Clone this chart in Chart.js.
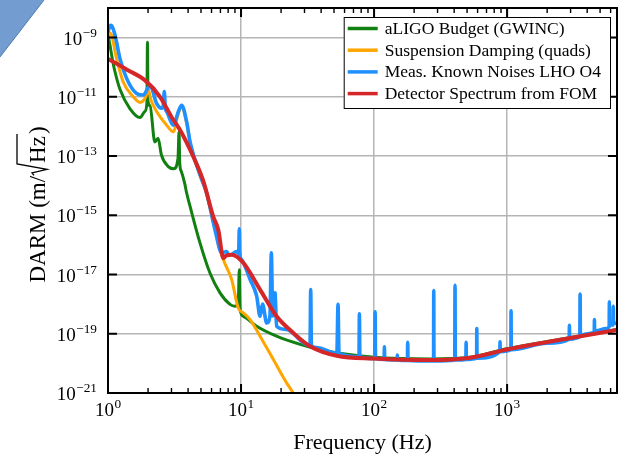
<!DOCTYPE html>
<html>
<head>
<meta charset="utf-8">
<script src="https://cdn.jsdelivr.net/npm/chart.js@4.4.0/dist/chart.umd.min.js"></script>
<style>
  html, body { margin: 0; padding: 0; background: #fff; }
  canvas { display: block; }
</style>
</head>
<body>
<canvas id="darmChart" width="625" height="459"></canvas>
<script>
// values: frequency in Hz, ASD in m/rtHz
const budgetFreq = [1.0, 1.03, 1.08, 1.13, 1.23, 1.46, 1.74, 1.89, 1.96, 1.98, 2.0, 2.07, 2.25, 2.38, 2.52, 2.84, 3.12, 3.36, 3.42, 3.46, 3.56, 3.77, 3.89, 4.14, 4.92, 5.85, 6.95, 8.27, 9.0, 9.53, 9.7, 9.85, 10.4, 13.1, 18.5, 27.8, 44, 100, 263, 527, 995, 2655, 6700];
const budgetAsd = [1.2e-9, 6.3e-10, 1.8e-10, 6.9e-11, 1.8e-11, 4.0e-12, 2.0e-12, 3.2e-12, 6.0e-12, 7.0e-10, 7.0e-12, 5.0e-12, 3.0e-13, 4.0e-13, 1.1e-13, 4.4e-14, 3.7e-14, 8.5e-14, 6.6e-13, 6.0e-14, 3.0e-14, 1.2e-14, 6.0e-15, 2.0e-15, 1.15e-16, 1.1e-17, 2.4e-18, 9.8e-19, 8.5e-19, 1.1e-18, 1.45e-17, 6.6e-19, 3.9e-19, 1.8e-19, 8.3e-20, 4.4e-20, 2.6e-20, 1.6e-20, 1.4e-20, 1.6e-20, 3.1e-20, 6.8e-20, 1.4e-19];

const dampFreq = [1.0, 1.065, 1.16, 1.30, 1.55, 1.74, 1.9, 2.01, 2.1, 2.32, 2.76, 3.1, 3.38, 3.58, 3.9, 4.14, 4.92, 5.52, 6.38, 7.36, 8.5, 9.53, 10.4, 11.7, 13.9, 17.5, 22.0, 24.7, 27];
const dampAsd = [1.6e-9, 1.2e-9, 1.95e-10, 3.2e-11, 1.0e-11, 6.5e-12, 9.0e-12, 1.7e-11, 8.0e-12, 3.2e-12, 1.1e-12, 6.6e-13, 2.8e-12, 4.5e-12, 1.3e-12, 2.8e-13, 2.2e-14, 5.5e-15, 3.2e-16, 3.2e-17, 6.8e-18, 7.4e-19, 5.1e-19, 3.0e-19, 8.3e-20, 1.35e-20, 2.2e-21, 1.0e-21, 5.0e-22];

const measFreq = [1.0, 1.04, 1.065, 1.13, 1.23, 1.38, 1.64, 1.84, 2.07, 2.32, 2.53, 2.6, 2.65, 2.7, 2.76, 3.1, 3.38, 3.58, 3.9, 4.14, 4.92, 5.52, 6.38, 7.15, 7.8, 8.1, 8.5, 9.25, 9.6, 9.7, 9.8, 10.1, 11.7, 13.1, 13.9, 14.5, 15.6, 16.5, 16.9, 17.3, 18.0, 18.5, 22, 29.3, 33.0, 33.4, 33.8, 37, 52.5, 53.6, 54.5, 77, 77.6, 78.2, 101, 101.8, 102.6, 119, 119.6, 120.2, 149, 149.6, 150.2, 178, 179, 180, 280, 281, 282, 404, 406, 408, 490, 492, 494, 590, 592, 594, 882, 885, 888, 1067, 1071, 1075, 2000, 2930, 2940, 2950, 3520, 3538, 3556, 4000, 4520, 4534, 4548, 5000, 5500, 5850, 5873, 5900, 6270, 6290, 6310, 6700];
const measAsd = [1.6e-9, 2.6e-9, 2.5e-9, 1.2e-9, 1.95e-10, 4.2e-11, 1.3e-11, 1.15e-11, 2.45e-11, 6.0e-12, 4.1e-12, 5.0e-12, 1.5e-11, 4.0e-12, 3.2e-12, 1.1e-12, 3.2e-12, 5.2e-12, 1.45e-12, 3.0e-13, 2.3e-14, 5.6e-15, 3.2e-16, 5.4e-17, 6.0e-17, 4.5e-17, 4.7e-17, 6.0e-17, 5.0e-17, 3.5e-16, 5.0e-17, 3.2e-17, 6.8e-18, 1.9e-18, 3.9e-19, 1.0e-18, 2.3e-19, 4.0e-19, 5.4e-17, 4.0e-19, 2.4e-18, 1.8e-19, 1.4e-19, 5.0e-20, 4.0e-20, 3.1e-18, 4.0e-20, 3.4e-20, 2.2e-20, 9.8e-19, 2.2e-20, 1.7e-20, 4.7e-19, 1.7e-20, 1.45e-20, 5.5e-19, 1.45e-20, 1.35e-20, 3.6e-20, 1.35e-20, 1.3e-20, 1.9e-20, 1.3e-20, 1.25e-20, 5.2e-20, 1.25e-20, 1.2e-20, 2.9e-18, 1.2e-20, 1.3e-20, 4.3e-18, 1.3e-20, 1.35e-20, 5.2e-20, 1.35e-20, 1.5e-20, 1.5e-19, 1.5e-20, 2.5e-20, 5.4e-20, 2.5e-20, 2.9e-20, 6.0e-19, 2.9e-20, 4.8e-20, 6.6e-20, 1.95e-19, 6.6e-20, 8.0e-20, 2.2e-18, 9.0e-20, 1.0e-19, 1.15e-19, 3.0e-19, 1.2e-19, 1.35e-19, 1.5e-19, 1.7e-19, 1.2e-18, 2.0e-19, 2.0e-19, 8.5e-19, 2.2e-19, 2.3e-19];

const fomFreq = [1.0, 1.4, 1.9, 2.46, 3.0, 3.48, 4.38, 5.2, 6.18, 6.75, 7.36, 7.7, 8.5, 10.4, 13.9, 18.5, 24.7, 33, 52.5, 100, 263, 527, 995, 2655, 6700];
const fomAsd = [1.9e-10, 8.1e-11, 3.6e-11, 1.0e-11, 2.1e-12, 7.6e-13, 9.5e-14, 1.45e-14, 9.1e-16, 3.2e-16, 3.6e-17, 4.3e-17, 4.7e-17, 2.5e-17, 3.1e-18, 3.9e-19, 1.07e-19, 3.8e-20, 1.8e-20, 1.45e-20, 1.29e-20, 1.55e-20, 2.95e-20, 6.5e-20, 1.35e-19];

const seriesLabels = ['aLIGO Budget (GWINC)', 'Suspension Damping (quads)', 'Meas. Known Noises LHO O4', 'Detector Spectrum from FOM'];
const seriesColors = ['#118011', '#ffa500', '#1e90ff', '#d62728'];

const xTickExps = [0, 1, 2, 3];
const yTickExps = [-9, -11, -13, -15, -17, -19, -21];

const serif = '"Liberation Serif", "DejaVu Serif", serif';

function pts(fs, vs) {
  return fs.map((f, i) => ({ x: f, y: vs[i] }));
}

function drawPow(ctx, e, x, y, align) {
  const sup = e < 0 ? '\u2212' + (-e) : String(e);
  ctx.font = '19px ' + serif;
  const wb = ctx.measureText('10').width;
  ctx.font = '13.3px ' + serif;
  const ws = ctx.measureText(sup).width;
  const total = wb + ws + 0.5;
  const x0 = align === 'right' ? x - total : x - total / 2;
  ctx.textAlign = 'left';
  ctx.textBaseline = 'alphabetic';
  ctx.font = '19px ' + serif;
  ctx.fillText('10', x0, y);
  ctx.font = '13.3px ' + serif;
  ctx.fillText(sup, x0 + wb + 0.5, y - 8);
}

// page corner triangle
const cornerPlugin = {
  id: 'corner',
  afterDraw(chart) {
    const ctx = chart.ctx;
    ctx.save();
    ctx.fillStyle = '#739dd0';
    ctx.beginPath();
    ctx.moveTo(0, 0); ctx.lineTo(44, 0); ctx.lineTo(0, 57); ctx.closePath();
    ctx.fill();
    ctx.strokeStyle = '#4d7bb5';
    ctx.lineWidth = 1;
    ctx.beginPath(); ctx.moveTo(44, 0); ctx.lineTo(0, 57); ctx.stroke();
    ctx.restore();
  }
};

// axes frame, inward ticks, mathtext-like labels
const framePlugin = {
  id: 'frame',
  afterDraw(chart) {
    const ctx = chart.ctx;
    const a = chart.chartArea;
    const xs = chart.scales.x, ys = chart.scales.y;
    ctx.save();
    ctx.strokeStyle = '#000';
    ctx.fillStyle = '#000';

    xTickExps.forEach(e => {
      for (let m = 1; m <= 9; m++) {
        const v = m * Math.pow(10, e);
        if (v > xs.max) break;
        const px = xs.getPixelForValue(v);
        const len = m === 1 ? 9 : 5;
        ctx.lineWidth = m === 1 ? 2 : 1.4;
        ctx.beginPath();
        ctx.moveTo(px, a.bottom); ctx.lineTo(px, a.bottom - len);
        ctx.moveTo(px, a.top); ctx.lineTo(px, a.top + len);
        ctx.stroke();
      }
      drawPow(ctx, e, xs.getPixelForValue(Math.pow(10, e)), a.bottom + 23, 'center');
    });

    yTickExps.forEach(e => {
      const py = ys.getPixelForValue(Math.pow(10, e));
      ctx.lineWidth = 2;
      ctx.beginPath();
      ctx.moveTo(a.left, py); ctx.lineTo(a.left + 9, py);
      ctx.moveTo(a.right, py); ctx.lineTo(a.right - 9, py);
      ctx.stroke();
      drawPow(ctx, e, a.left - 11, py + 7, 'right');
    });

    ctx.lineWidth = 2;
    ctx.strokeRect(a.left, a.top, a.right - a.left, a.bottom - a.top);

    // x title
    ctx.font = '22px ' + serif;
    ctx.textAlign = 'center';
    ctx.textBaseline = 'alphabetic';
    ctx.fillText('Frequency (Hz)', (a.left + a.right) / 2, 449);

    // y title, radical drawn as a path so the bar sits over Hz
    ctx.font = '23px ' + serif;
    ctx.translate(45, (a.top + a.bottom) / 2 + 4);
    ctx.rotate(-Math.PI / 2);
    const head = 'DARM (m/', body = 'Hz', tail = ')';
    const wHead = ctx.measureText(head).width;
    const wBody = ctx.measureText(body).width;
    const wTail = ctx.measureText(tail).width;
    const wRad = 13;
    const total = wHead + wRad + wBody + 2 + wTail;
    let x = -total / 2;
    ctx.textAlign = 'left';
    ctx.fillText(head, x, 0);
    x += wHead;
    ctx.lineWidth = 1.3;
    ctx.lineJoin = 'miter';
    ctx.beginPath();
    ctx.moveTo(x + 0.5, -11);
    ctx.lineTo(x + 3, -13);
    ctx.lineTo(x + 6.5, 2);
    ctx.lineTo(x + 12, -28);
    ctx.lineTo(x + wRad + wBody + 2, -28);
    ctx.stroke();
    x += wRad;
    ctx.fillText(body, x, 0);
    x += wBody + 2;
    ctx.fillText(tail, x, 0);
    ctx.restore();
  }
};

// boxed legend in the upper right of the plot area
const legendPlugin = {
  id: 'boxLegend',
  afterDraw(chart) {
    const ctx = chart.ctx;
    const a = chart.chartArea;
    ctx.save();
    ctx.font = '17.5px ' + serif;
    const textW = Math.max(...seriesLabels.map(t => ctx.measureText(t).width));
    const w = 41 + textW + 9;
    const h = 91;
    const right = a.right - 7, top = a.top + 9;
    const left = right - w;
    ctx.fillStyle = '#fff';
    ctx.fillRect(left, top, w, h);
    ctx.strokeStyle = '#000';
    ctx.lineWidth = 1;
    ctx.strokeRect(left + 0.5, top + 0.5, w, h);
    seriesLabels.forEach((label, i) => {
      const cy = top + 11.5 + i * 21.7;
      ctx.strokeStyle = seriesColors[i];
      ctx.lineWidth = 3.5;
      ctx.beginPath();
      ctx.moveTo(left + 4, cy); ctx.lineTo(left + 34, cy);
      ctx.stroke();
      ctx.fillStyle = '#000';
      ctx.textAlign = 'left';
      ctx.textBaseline = 'middle';
      ctx.fillText(label, left + 41, cy + 1);
    });
    ctx.restore();
  }
};

const common = {
  pointRadius: 0,
  fill: false,
  cubicInterpolationMode: 'monotone',
  borderJoinStyle: 'round',
  borderCapStyle: 'round',
  clip: 0
};

const datasets = [
  Object.assign({ label: seriesLabels[3], data: pts(fomFreq, fomAsd), borderColor: seriesColors[3], borderWidth: 4, order: 0 }, common),
  Object.assign({ label: seriesLabels[2], data: pts(measFreq, measAsd), borderColor: seriesColors[2], borderWidth: 3.6, order: 1 }, common),
  Object.assign({ label: seriesLabels[1], data: pts(dampFreq, dampAsd), borderColor: seriesColors[1], borderWidth: 3, order: 2 }, common),
  Object.assign({ label: seriesLabels[0], data: pts(budgetFreq, budgetAsd), borderColor: seriesColors[0], borderWidth: 3, order: 3 }, common)
];

new Chart(document.getElementById('darmChart'), {
  type: 'line',
  data: { datasets: datasets },
  options: {
    responsive: false,
    devicePixelRatio: 1,
    animation: false,
    events: [],
    layout: { padding: { top: 8, right: 8, left: 0, bottom: 0 } },
    plugins: { legend: { display: false }, tooltip: { enabled: false } },
    scales: {
      x: {
        type: 'logarithmic',
        min: 1,
        max: 6700,
        afterBuildTicks: s => { s.ticks = xTickExps.map(e => ({ value: Math.pow(10, e) })); },
        afterFit: s => { s.height = 66; },
        ticks: { display: false },
        grid: { color: '#b5b5b5', lineWidth: 1.5, drawTicks: false },
        border: { display: false }
      },
      y: {
        type: 'logarithmic',
        min: 1e-21,
        max: 1e-8,
        afterBuildTicks: s => { s.ticks = yTickExps.map(e => ({ value: Math.pow(10, e) })); },
        afterFit: s => { s.width = 108; },
        ticks: { display: false },
        grid: { color: '#b5b5b5', lineWidth: 1.5, drawTicks: false },
        border: { display: false }
      }
    }
  },
  plugins: [framePlugin, legendPlugin, cornerPlugin]
});
</script>
</body>
</html>
